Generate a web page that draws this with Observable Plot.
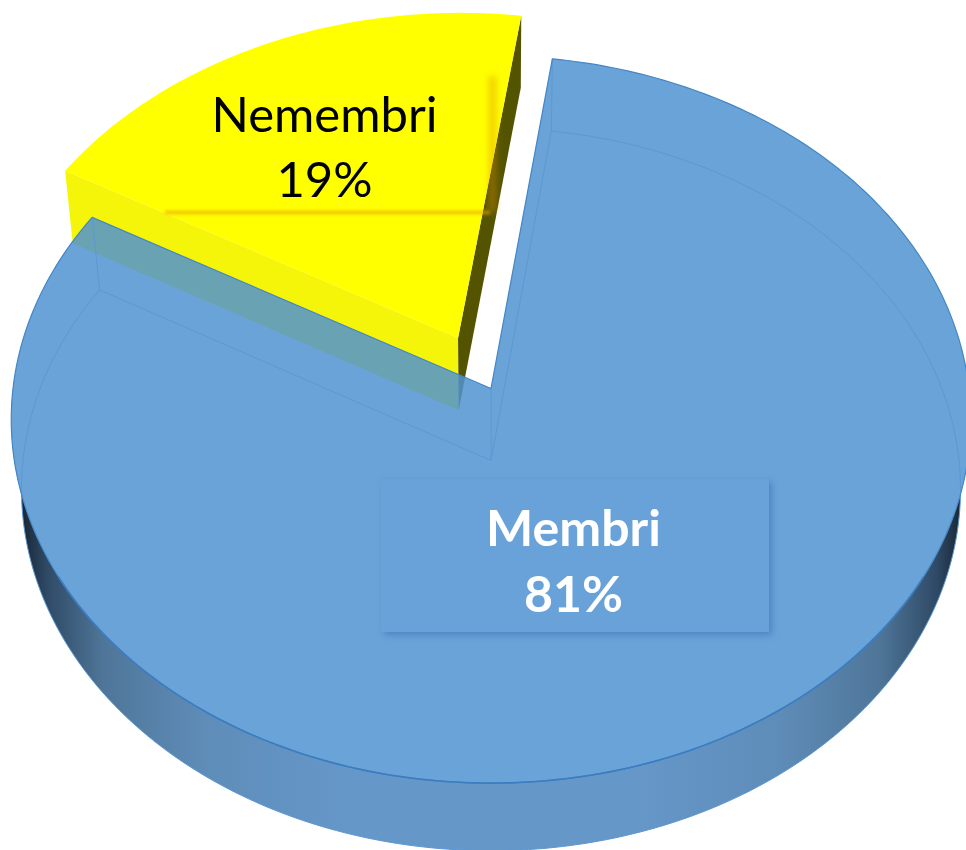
<!DOCTYPE html>
<html>
<head>
<meta charset="utf-8">
<script src="https://cdn.jsdelivr.net/npm/d3@7"></script>
<script src="https://cdn.jsdelivr.net/npm/@observablehq/plot@0.6"></script>
<style>html,body{margin:0;padding:0;background:#fff;overflow:hidden}svg{display:block}</style>
</head>
<body>
<div id="chart"></div>
<script>
const categories = ["Membri", "Nemembri"];
const shares = [81, 19];
const firstSliceAngle = 8;   // degrees clockwise from the far side of the pie
const explode = 0.158;       // pull-out of the second slice, in pie radii

// Perspective of the two planes of the 3D disc (top face and underside)
const topPlane = {x0: 490.5, y0: 388, a: 478, b: 361, k: 0.0852};
const lowPlane = {x0: 490.5, y0: 460, a: 468, b: 359, k: 0.08};

const rad = d => d * Math.PI / 180;
function proj(plane, u, v) {
  const w = 1 - plane.k * v;
  return {x: plane.x0 + plane.a * u / w, y: plane.y0 + plane.b * v / w};
}
function polar(deg, off = [0, 0]) {
  return [Math.sin(rad(deg)) + off[0], -Math.cos(rad(deg)) + off[1]];
}
function arcPts(plane, a0, a1, off = [0, 0]) {
  const n = Math.ceil(Math.abs(a1 - a0));
  return d3.range(n + 1).map(i => {
    const [u, v] = polar(a0 + (a1 - a0) * i / n, off);
    return proj(plane, u, v);
  });
}

const blueStart = firstSliceAngle;
const blueEnd = blueStart + shares[0] * 3.6;
const yellowEnd = blueEnd + shares[1] * 3.6;
const mid = (blueEnd + yellowEnd) / 2;
const off = [Math.sin(rad(mid)) * explode, -Math.cos(rad(mid)) * explode];

// Blue slice
const blueFace = [proj(topPlane, 0, 0), ...arcPts(topPlane, blueStart, blueEnd)];
const blueUnder = [proj(lowPlane, 0, 0), ...arcPts(lowPlane, blueStart, blueEnd)];
const blueWall = [...arcPts(lowPlane, 90, 270), ...arcPts(topPlane, 270, 90)];
const blueRadialA = [proj(topPlane, 0, 0), proj(lowPlane, 0, 0)];
const blueRadialB = [proj(topPlane, ...polar(blueStart)), proj(lowPlane, ...polar(blueStart))];
const blueRadialC = [proj(topPlane, ...polar(blueEnd)), proj(lowPlane, ...polar(blueEnd))];

// Yellow slice
const yApexT = proj(topPlane, off[0], off[1]);
const yApexL = proj(lowPlane, off[0], off[1]);
const yEndT = proj(topPlane, ...polar(yellowEnd, off));
const yEndL = proj(lowPlane, ...polar(yellowEnd, off));
const yStartT = proj(topPlane, ...polar(blueEnd, off));
const yStartL = proj(lowPlane, ...polar(blueEnd, off));
const yellowFace = [yApexT, ...arcPts(topPlane, blueEnd, yellowEnd, off)];
const yellowWall = [yStartT, yApexT, yApexL, yStartL];
const yellowDark = [yEndT, yApexT, yApexL, yEndL];

const poly = (pts, o) => Plot.line(pts, {x: "x", y: "y", curve: "linear-closed", strokeWidth: 0, stroke: "none", ...o});
const open = (pts, o) => Plot.line(pts, {x: "x", y: "y", strokeLinecap: "butt", ...o});

const gradient = () => {
  const defs = d3.create("svg:defs");
  const g = defs.append("linearGradient").attr("id", "wallGrad")
    .attr("gradientUnits", "userSpaceOnUse").attr("x1", 18).attr("x2", 964).attr("y1", 0).attr("y2", 0);
  [[0, "#16222f"], [0.03, "#2f4a66"], [0.09, "#4f7699"], [0.2, "#5f8db9"], [0.35, "#6597c9"],
   [0.65, "#6597c9"], [0.8, "#5f8db9"], [0.91, "#4f7699"], [0.97, "#2f4a66"], [1, "#16222f"]]
    .forEach(([o, c]) => g.append("stop").attr("offset", o).attr("stop-color", c));
  return defs.node();
};

const chart = Plot.plot({
  width: 966,
  height: 850,
  margin: 0,
  x: {domain: [0, 966], range: [0, 966], axis: null},
  y: {domain: [0, 850], range: [0, 850], axis: null},
  style: {background: "#fff"},
  marks: [
    gradient,
    poly(blueWall, {fill: "url(#wallGrad)"}),
    poly(blueFace, {fill: "#fff"}),
    // exploded slice
    poly(yellowWall, {fill: "#f5f50a"}),
    poly(yellowDark, {fill: "#545400"}),
    poly(yellowFace, {fill: "#ffff00"}),
    // soft shadow edges of the yellow slice's label box
    Plot.ruleY([categories[1]], {
      y: () => 212, x1: () => 165, x2: () => 490,
      stroke: "#e8a800", strokeWidth: 4, strokeOpacity: 0.6, imageFilter: "blur(1.5px)"
    }),
    Plot.ruleX([categories[1]], {
      x: () => 492, y1: () => 76, y2: () => 212,
      stroke: "#e09000", strokeWidth: 8, strokeOpacity: 0.4, imageFilter: "blur(3px)"
    }),
    // main slice
    poly(blueFace, {fill: "#5093d1", fillOpacity: 0.85}),
    open(blueUnder, {stroke: "#5c98d2", strokeWidth: 1, curve: "linear-closed"}),
    open(blueRadialA, {stroke: "#5c98d2", strokeWidth: 1}),
    open(blueRadialB, {stroke: "#5c98d2", strokeWidth: 1}),
    open(blueRadialC, {stroke: "#5c98d2", strokeWidth: 1}),
    open(blueFace, {stroke: "#4386c6", strokeWidth: 1.2, curve: "linear-closed"}),
    open(arcPts(topPlane, 120, 240), {stroke: "#3b7dc0", strokeWidth: 1.6}),
    // label box of the blue slice
    Plot.rect([categories[0]], {
      x1: () => 381, x2: () => 769, y1: () => 479, y2: () => 632,
      fill: "#69a2d8",
      imageFilter: "drop-shadow(3px 3px 3px rgba(50,105,170,0.5))"
    }),
    Plot.text([`${categories[1]}\n${shares[1]}%`], {
      x: () => 324, y: () => 143, text: d => d,
      fill: "#000", fontFamily: "Lato", fontSize: 49, lineHeight: 1.34
    }),
    Plot.text([`${categories[0]}\n${shares[0]}%`], {
      x: () => 573, y: () => 557, text: d => d,
      fill: "#fff", fontFamily: "Lato", fontWeight: 700, fontSize: 50, lineHeight: 1.32
    })
  ]
});
document.getElementById("chart").appendChild(chart);
</script>
</body>
</html>
